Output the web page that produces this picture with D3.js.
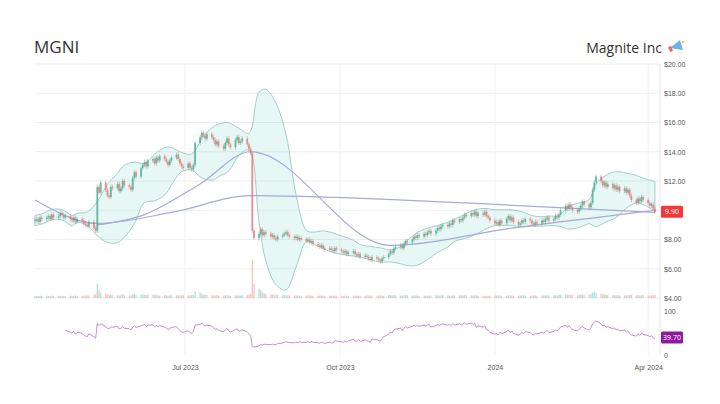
<!DOCTYPE html>
<html><head><meta charset="utf-8">
<script src="https://cdn.jsdelivr.net/npm/d3@7/dist/d3.min.js"></script>
<style>body{margin:0;background:#fff}svg{font-family:"Open Sans",sans-serif}</style>
</head><body><svg id="c" width="720" height="404"></svg>
<script>
const ticker = "MGNI", company = "Magnite Inc";
const startDate = "2023-04-03";
// daily closes, one row per week (Mon-Fri)
const closes = [
9.3,9.4,9.2,9.5,9.4, 9.5,9.6,9.4,9.7,9.5, 9.6,9.8,9.7,9.5,9.6, 9.4,9.3,9.5,9.2,9.4,
9.3,9.1,9.0,8.9,9.2, 8.8,8.6,11.6,11.2,11.9, 11.4,11.0,10.9,11.6,11.5, 11.8,11.3,11.5,12.0,11.7,
11.6,11.4,12.2,12.6,12.3, 12.9,13.1,13.3,13.0,13.4, 13.5,13.2,13.6,13.4,13.7, 13.5,13.3,13.1,13.4,13.6,
13.8,13.5,13.2,13.0,12.9, 13.2,12.9,12.8,13.1,14.6, 15.0,15.3,15.1,14.9,15.2, 15.0,14.8,14.5,14.7,14.4,
14.2,14.6,14.9,14.5,14.3, 14.8,15.0,14.6,14.7,14.9, 14.5,14.2,13.9,8.6,8.1, 8.4,8.7,8.3,8.5,8.4,
8.2,8.3,8.1,8.0,8.2, 8.3,8.4,8.5,8.3,8.2, 8.1,8.2,8.0,8.1,8.0, 7.9,8.0,7.8,7.9,7.7,
7.6,7.5,7.6,7.4,7.3, 7.4,7.3,7.2,7.4,7.3, 7.2,7.1,7.2,7.0,7.1, 7.2,7.0,6.9,7.0,6.8,
6.9,6.8,6.7,6.6,6.8, 6.7,6.6,6.5,6.7,6.8, 7.0,7.2,7.1,7.4,7.5, 7.6,7.4,7.7,7.9,7.8,
8.0,8.2,8.1,8.3,8.2, 8.4,8.3,8.5,8.6,8.4, 8.6,8.8,8.7,8.9,9.0, 8.9,9.1,9.0,9.3,9.2,
9.4,9.3,9.5,9.7,9.6, 9.8,9.7,9.9,9.6,9.8, 9.7,9.9,9.6,9.5,9.3, 9.1,9.2,9.0,9.3,9.1,
9.4,9.6,9.3,9.5,9.2, 9.0,9.1,9.3,9.2,9.4, 9.3,9.1,9.0,9.2,9.1, 9.3,9.2,9.4,9.5,9.3,
9.4,9.6,9.5,9.7,10.0, 10.3,10.1,10.4,10.2,10.0, 9.9,10.1,10.3,10.6,10.4, 10.2,10.5,11.4,11.9,12.3,
12.0,11.7,11.9,11.6,11.8, 11.5,11.7,11.4,11.6,11.3, 11.5,11.2,11.4,11.0,10.7, 10.5,10.8,10.6,10.9,10.7,
10.5,10.3,10.4,10.1,9.9];
// daily volume, millions
const volumes = [
1.4,1.2,1.3,1.5,1.2, 1.3,1.4,1.2,1.6,1.3, 1.2,1.5,1.3,1.4,1.2, 1.5,1.3,1.4,1.6,1.3,
1.4,1.6,1.5,1.8,1.6, 2.2,2.5,9.0,5.0,3.5, 2.8,2.4,2.0,2.2,1.9, 1.8,1.7,2.0,2.2,1.8,
1.6,1.7,2.4,2.6,2.0, 2.5,2.2,2.0,1.9,2.1, 1.8,1.9,2.2,1.7,1.6, 1.8,1.6,1.5,1.7,1.9,
1.7,1.6,1.8,1.5,1.9, 1.6,1.5,1.8,2.0,4.2, 3.5,2.8,2.2,2.0,1.9, 1.8,1.7,1.6,1.8,1.5,
1.6,1.7,1.8,1.5,1.6, 1.7,1.8,1.6,1.5,1.9, 1.8,2.0,2.6,24.0,9.0, 6.0,5.0,3.5,3.0,2.5,
2.4,2.2,2.0,2.1,1.9, 1.8,1.9,1.7,1.6,1.8, 1.5,1.7,1.6,1.5,1.4, 1.6,1.5,1.7,1.4,1.5,
1.6,1.5,1.4,1.6,1.3, 1.4,1.5,1.3,1.6,1.4, 1.5,1.3,1.4,1.6,1.3, 1.4,1.5,1.6,1.3,1.5,
1.4,1.6,1.5,1.7,1.4, 1.5,1.6,1.7,1.5,1.4, 2.2,1.9,1.6,1.8,1.7, 1.6,1.5,1.7,1.8,1.6,
1.5,1.7,1.6,1.5,1.4, 1.6,1.5,1.4,1.6,1.5, 1.7,1.6,1.5,1.6,1.8, 1.7,1.6,1.5,1.7,1.6,
1.8,1.7,1.6,1.9,1.8, 1.7,1.6,1.8,1.5,1.6, 1.3,1.4,1.2,1.3,1.5, 1.6,1.5,1.7,1.6,1.4,
1.6,1.7,1.5,1.6,1.4, 1.5,1.6,1.7,1.5,1.6, 1.4,1.5,1.6,1.7,1.5, 1.6,1.5,1.7,1.8,1.6,
1.7,1.8,1.6,1.9,2.2, 2.4,2.0,2.2,1.9,1.8, 1.7,1.9,2.1,2.4,2.0, 2.2,2.6,3.6,4.0,3.2,
2.6,2.4,2.2,2.0,1.9, 1.8,1.9,1.7,1.8,1.6, 1.7,1.6,1.8,1.9,2.2, 1.8,1.7,1.6,1.8,1.7,
1.6,1.7,1.5,1.8,1.9];
// sparse moving-average points (smoothed trend lines)
const maShortDates = ["2023-05-10","2023-06-07","2023-07-10","2023-08-09","2023-10-31","2024-01-12","2024-03-01","2024-04-05"];
const maShortVals  = [9.0, 9.7, 11.8, 14.0, 7.6, 8.8, 9.5, 10.0];
const maLongDates  = ["2023-04-03","2023-05-10","2023-06-25","2023-08-09","2023-12-15","2024-04-05"];
const maLongVals   = [10.7, 9.1, 9.9, 11.0, 10.5, 9.85];
const priceTicks = [4,6,8,10,12,14,16,18,20];
const rsiTicks = [0,100];
const lastPrice = 9.90, lastRsi = 39.70;

const dates = []; let d = new Date(startDate+"T00:00:00");
while (dates.length < closes.length) { if (d.getDay()!==0 && d.getDay()!==6) dates.push(new Date(d)); d.setDate(d.getDate()+1); }
const data = closes.map((c,i)=>{const o = i? closes[i-1] : c; return {date:dates[i], o, c, h:Math.max(o,c)+0.15, l:Math.min(o,c)-0.15, v:volumes[i]};});

const svg = d3.select("#c");
const L=35, R=660;
const x = d3.scaleTime().domain([new Date("2023-04-03"), new Date("2024-04-08")]).range([L,R]);
const y = d3.scaleLinear().domain([4,20]).range([298,64]);
const yv = d3.scaleLinear().domain([0,24]).range([298,260]);
const yr = d3.scaleLinear().domain([0,100]).range([355,311]);

const timeTicks = [new Date("2023-07-01"),new Date("2023-10-01"),new Date("2024-01-01"),new Date("2024-04-01")];
svg.append("g").selectAll("line").data(priceTicks).join("line").attr("x1",L).attr("x2",R).attr("y1",y).attr("y2",y).attr("stroke","#eeeeee");
svg.append("g").selectAll("line").data(timeTicks).join("line").attr("x1",x).attr("x2",x).attr("y1",64).attr("y2",355).attr("stroke","#f0f0f0");
svg.append("line").attr("x1",R).attr("x2",R).attr("y1",64).attr("y2",355).attr("stroke","#e6e6e6");

const ay = svg.append("g").attr("transform",`translate(${R},0)`).call(d3.axisRight(y).tickValues(priceTicks).tickFormat(v=>"$"+v.toFixed(2)).tickSize(0).tickPadding(4));
const ar = svg.append("g").attr("transform",`translate(${R},0)`).call(d3.axisRight(yr).tickValues(rsiTicks).tickSize(0).tickPadding(4));
const ax = svg.append("g").attr("transform",`translate(0,362)`).call(d3.axisBottom(x).tickValues(timeTicks).tickFormat(t=>t.getMonth()===0?d3.timeFormat("%Y")(t):d3.timeFormat("%b %Y")(t)).tickSize(0));
[ay,ar,ax].forEach(a=>{a.select(".domain").remove();a.selectAll("text").attr("fill","#555").style("font-size","7px");});

const N=20, bb=[];
for (let i=N-1;i<data.length;i++){const w=closes.slice(i-N+1,i+1);const m=d3.mean(w),s=d3.deviation(w)*Math.sqrt((N-1)/N);bb.push({date:dates[i],u:m+2*s,lo:m-2*s});}
const bbs = bb.filter((p,i)=>i%4===0||i===bb.length-1);
const pre = data.slice(0,N-1).filter((p,i)=>i%4===0).map(p=>({date:p.date,u:p.c+0.35,lo:p.c-0.35}));
const band = pre.concat(bbs);
svg.append("path").datum(band).attr("d",d3.area().x(p=>x(p.date)).y0(p=>y(Math.max(p.lo,4))).y1(p=>y(p.u)).curve(d3.curveCatmullRom)).attr("fill","rgba(120,210,200,0.18)").attr("stroke","#8cc3bb").attr("stroke-width",0.8);

const bw = 1.3;
svg.append("g").selectAll("rect").data(data).join("rect").attr("x",p=>x(p.date)-bw/2).attr("width",bw).attr("y",p=>yv(p.v)).attr("height",p=>298-yv(p.v)).attr("fill",p=>p.c>=p.o?"rgba(38,166,154,0.35)":"rgba(239,83,80,0.35)");

const line = d3.line().x(p=>x(new Date(p[0]))).y(p=>y(p[1])).curve(d3.curveMonotoneX);
svg.append("path").attr("d",line(d3.zip(maLongDates,maLongVals))).attr("fill","none").attr("stroke","#a6abd8").attr("stroke-width",1.2);
svg.append("path").attr("d",line(d3.zip(maShortDates,maShortVals))).attr("fill","none").attr("stroke","#a6abd8").attr("stroke-width",1.2);

const cg = svg.append("g").selectAll("g").data(data).join("g").attr("opacity",0.8);
cg.append("line").attr("x1",p=>x(p.date)).attr("x2",p=>x(p.date)).attr("y1",p=>y(p.h)).attr("y2",p=>y(p.l)).attr("stroke",p=>p.c>=p.o?"#3fae8f":"#e57373").attr("stroke-width",0.6);
cg.append("rect").attr("x",p=>x(p.date)-0.9).attr("width",1.8).attr("y",p=>y(Math.max(p.o,p.c))).attr("height",p=>Math.max(0.6,Math.abs(y(p.o)-y(p.c)))).attr("fill",p=>p.c>=p.o?"#3fae8f":"#e57373");

const rsi=[]; let ag=0, al=0; const P=14;
for (let i=1;i<closes.length;i++){const ch=closes[i]-closes[i-1];const g=Math.max(ch,0),l=Math.max(-ch,0);
 if(i<=P){ag+=g/P;al+=l/P;} else {ag=(ag*(P-1)+g)/P;al=(al*(P-1)+l)/P;}
 if(i>=P) rsi.push({date:dates[i],v:al===0?100:100-100/(1+ag/al)});}
svg.append("path").datum(rsi).attr("d",d3.line().x(p=>x(p.date)).y(p=>yr(p.v))).attr("fill","none").attr("stroke","#c27fc9").attr("stroke-width",0.9);

// hide the $10 label beneath the last-price tag
ay.selectAll(".tick").filter(v=>v===10).select("text").attr("opacity",0);
svg.append("rect").attr("x",R+1).attr("y",y(lastPrice)-6).attr("width",22).attr("height",12).attr("rx",1.5).attr("fill","#f23a3a");
svg.append("text").attr("x",R+12).attr("y",y(lastPrice)+2.5).attr("text-anchor","middle").attr("fill","#fff").style("font-size","7px").text(lastPrice.toFixed(2));
svg.append("rect").attr("x",R+1).attr("y",yr(lastRsi)-6).attr("width",22).attr("height",12).attr("rx",1.5).attr("fill","#8e1a9e");
svg.append("text").attr("x",R+12).attr("y",yr(lastRsi)+2.5).attr("text-anchor","middle").attr("fill","#fff").style("font-size","7px").text(lastRsi.toFixed(2));

svg.append("text").attr("x",34).attr("y",53).attr("fill","#333").style("font-size","17px").text(ticker);
svg.append("text").attr("x",662).attr("y",53).attr("text-anchor","end").attr("fill","#333").style("font-size","14px").text(company);
const ic = svg.append("g").attr("transform","translate(668,38)");
ic.append("path").attr("d","M2 10 L12 2 L15 12 Z").attr("fill","#6cb4e8");
ic.append("path").attr("d","M0 9 L3 8 L5 13 L2 14 Z").attr("fill","#e46b6b");
ic.append("circle").attr("cx",15).attr("cy",4).attr("r",1).attr("fill","#f3b13c");
</script></body></html>
